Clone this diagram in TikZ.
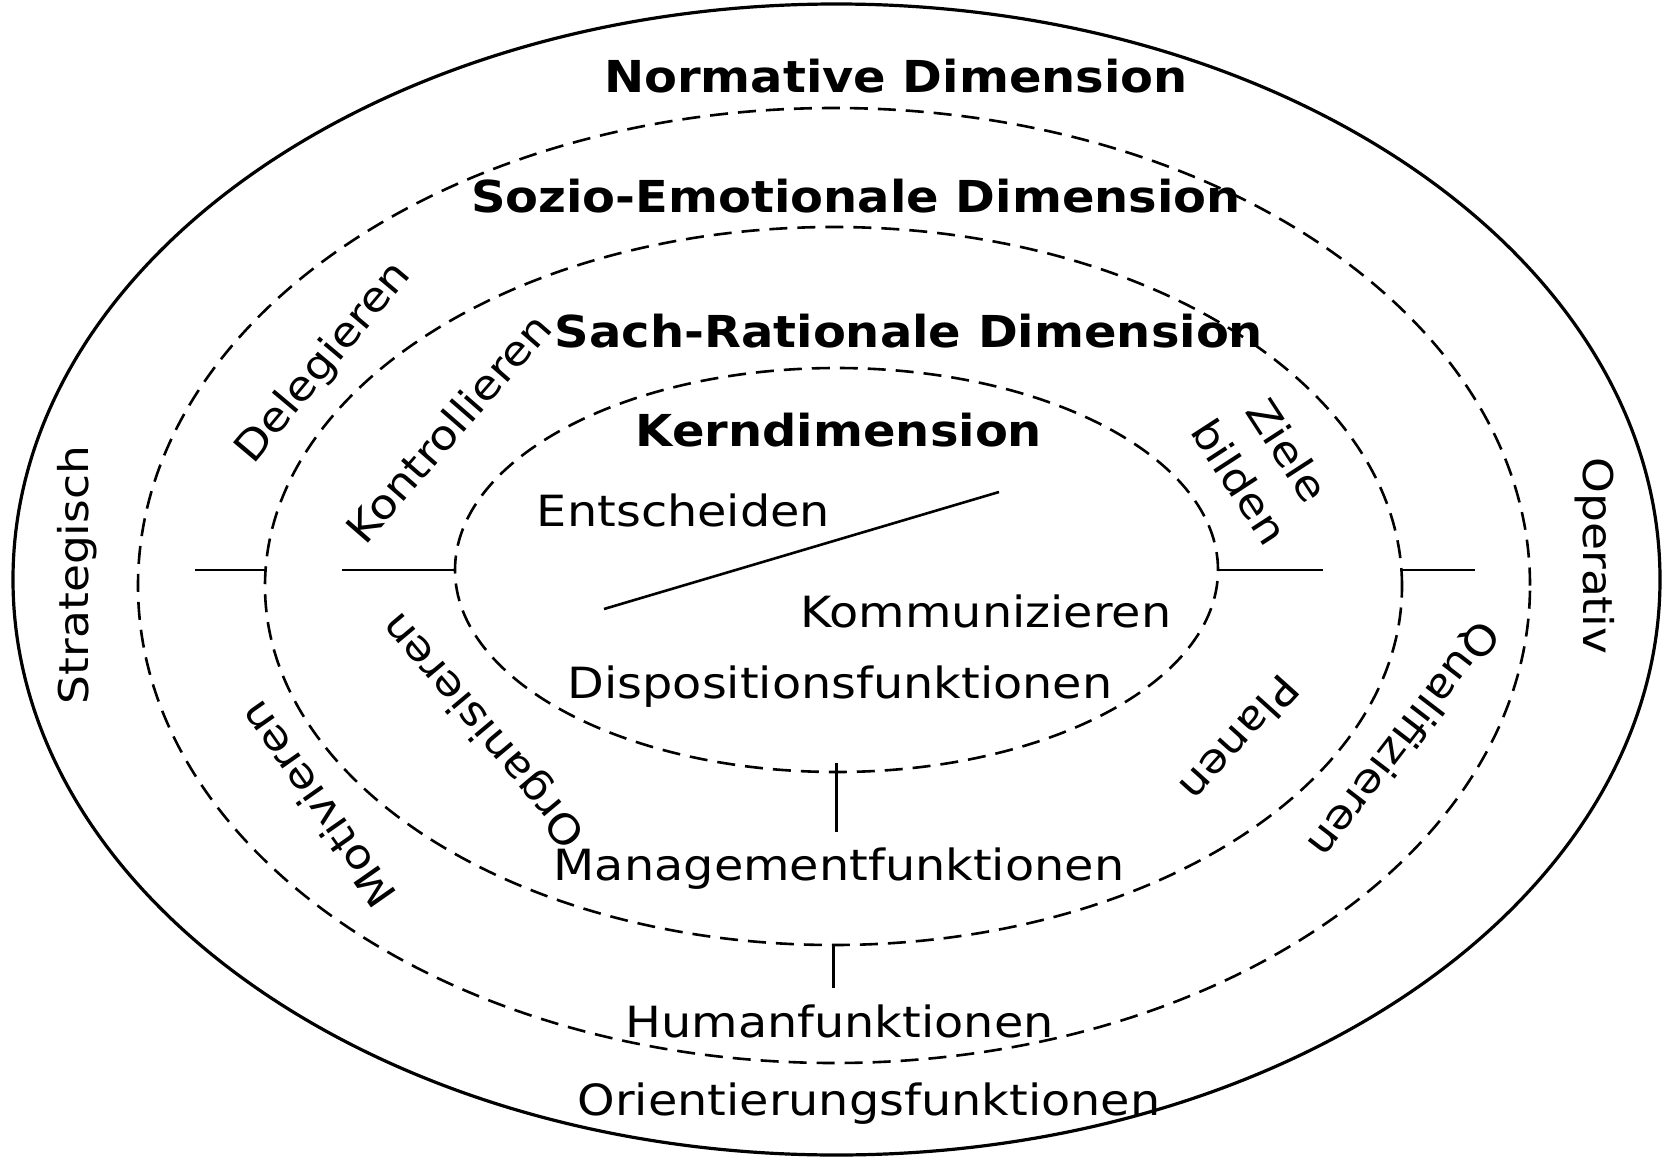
\documentclass[tikz,border=0pt]{standalone}
\usepackage{fontspec}
\setmainfont{DejaVu Sans}
\newfontfamily\dimfont[FakeStretch=1.09]{DejaVu Sans}
\newfontfamily\labfont[FakeStretch=1.11]{DejaVu Sans}
\usetikzlibrary{shapes.geometric}

\begin{document}
\begin{tikzpicture}[x=1pt,y=-1pt,
  rim/.style={ellipse, draw, inner sep=0pt, outer sep=0pt, line width=3.2pt},
  ring/.style={ellipse, draw, inner sep=0pt, outer sep=0pt, line width=2.6pt,
               dash pattern=on 18pt off 10pt},
  dim/.style={font=\dimfont\bfseries\fontsize{44}{50}\selectfont, inner sep=0pt, anchor=base},
  hlab/.style={font=\labfont\fontsize{43}{50}\selectfont, inner sep=0pt, anchor=base},
  lab/.style={font=\labfont\fontsize{41}{57}\selectfont, inner sep=0pt},
  tick/.style={line width=2.6pt}]

\useasboundingbox (0,0) rectangle (1667,1161);

% nested dimension rings
\node[rim,  minimum width=1647pt, minimum height=1151pt] (e1) at (836.5,579.5) {};
\node[ring, minimum width=1392pt, minimum height=955pt]  (e2) at (834,585.5) {};
\node[ring, minimum width=1137pt, minimum height=718pt]  (e3) at (833.5,586) {};
\node[ring, minimum width=763pt,  minimum height=404pt]  (e4) at (836.5,570) {};

% dimension titles
\node[dim] (nd) at (896,93)  {Normative Dimension};
\node[dim] (sd) at (856,212) {Sozio-Emotionale Dimension};
\node[dim] (rd) at (909,347) {Sach-Rationale Dimension};
\node[dim] (kd) at (839,446) {Kerndimension};

% function groups
\node[hlab] (ent) at (683.5,526) {Entscheiden};
\node[hlab] (kom) at (986,627)   {Kommunizieren};
\node[hlab] (dis) at (840,698)   {Dispositionsfunktionen};
\node[hlab] (man) at (839,880)   {Managementfunktionen};
\node[hlab] (hum) at (839.5,1037){Humanfunktionen};
\node[hlab] (ori) at (869,1115)  {Orientierungsfunktionen};

% labels following the rings
\node[lab, rotate=90]     (str) at (77,575)    {Strategisch};
\node[lab, rotate=-90]    (ope) at (1595,556)  {Operativ};
\node[lab, rotate=50]     (del) at (324,363)   {Delegieren};
\node[lab, rotate=49]     (kon) at (448,428)   {Kontrollieren};
\node[lab, rotate=-57, align=center] (zie) at (1264,466) {Ziele\\bilden};
\node[lab, rotate=130]    (org) at (485,729)   {Organisieren};
\node[lab, rotate=125]    (mot) at (317,805)   {Motivieren};
\node[lab, rotate=-132]   (pla) at (1240,739)  {Planen};
\node[lab, rotate=-127.5] (qua) at (1403,739)  {Qualifizieren};

% separators
\coordinate (l1) at (195,570);
\coordinate (l2) at (342,570);
\coordinate (r1) at (1323,570);
\coordinate (r2) at (1475,570);
\coordinate (b1) at (833,832);
\coordinate (b2) at (833,988);
\coordinate (d1) at (604,609);
\coordinate (d2) at (999,492);

\draw[tick] (l1) -- (l1 -| e3.west);
\draw[tick] (l2) -- (e4.west);
\draw[tick] (e4.east) -- (r1);
\draw[tick] (r2 -| e3.east) -- (r2);
\draw[tick] ([yshift=9pt]e4.south) -- (e4.south |- b1);
\draw[tick] (e3.south) -- (e3.south |- b2);
\draw[tick] (d1) -- (d2);
\end{tikzpicture}
\end{document}
